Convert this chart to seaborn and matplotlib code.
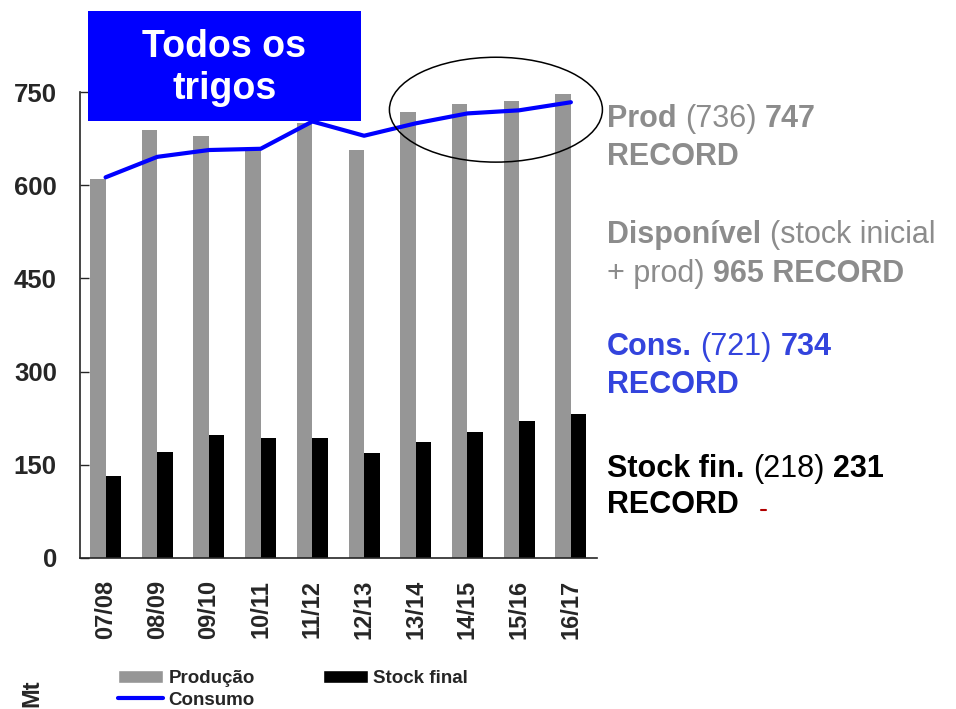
import pandas as pd
import matplotlib.pyplot as plt
import seaborn as sns
from matplotlib.patches import Ellipse, Rectangle, Patch
from matplotlib.lines import Line2D

seasons = ["07/08", "08/09", "09/10", "10/11", "11/12",
           "12/13", "13/14", "14/15", "15/16", "16/17"]
producao = [610, 690, 680, 658, 700, 657, 718, 731, 736, 747]
stock_final = [132, 170, 198, 193, 193, 169, 186, 203, 220, 231]
consumo = [613, 646, 657, 659, 703, 680, 700, 716, 721, 734]
y_ticks = [0, 150, 300, 450, 600, 750]

gray = "#969696"
txt_gray = "#8c8c8c"
txt_blue = "#3344dd"

sns.set_style("ticks")
plt.rcParams["font.family"] = ["Liberation Sans", "DejaVu Sans"]
plt.rcParams["font.weight"] = "bold"

df = pd.DataFrame({
    "season": seasons * 2,
    "serie": ["Produção"] * len(seasons) + ["Stock final"] * len(seasons),
    "valor": producao + stock_final,
})

fig = plt.figure(figsize=(9.56, 7.09), dpi=100)
ax = fig.add_axes([0.0834, 0.2134, 0.5408, 0.6564])

sns.barplot(data=df, x="season", y="valor", hue="serie",
            palette={"Produção": gray, "Stock final": "black"},
            width=0.6, linewidth=0, saturation=1, legend=False, ax=ax)
sns.pointplot(x=seasons, y=consumo, color="#0000ff", markers="",
              linewidth=3, errorbar=None, ax=ax)

ax.set_xlim(-0.5, len(seasons) - 0.5)
ax.set_ylim(0, 750)
ax.set_yticks(y_ticks)
ax.set_xlabel("")
ax.set_ylabel("")
sns.despine(ax=ax)
for s in ["left", "bottom"]:
    ax.spines[s].set_linewidth(1.2)
ax.tick_params(axis="y", direction="in", length=6.5, width=1, pad=16.5, labelsize=18.5)
ax.tick_params(axis="x", length=0, pad=16, labelsize=17, labelrotation=90)

# circle around the record years
ax.add_patch(Ellipse((7.55, 722), 4.12, 169, fill=False, ec="black",
                     lw=1.1, clip_on=False, zorder=4))

# title box
fig.add_artist(Rectangle((88 / 956, 1 - 121 / 709), 273 / 956, 110 / 709,
                         transform=fig.transFigure, fc="#0000ff", ec="none", zorder=5))
fig.text(224.5 / 956, 1 - 68 / 709, "Todos os\ntrigos", color="white", fontsize=27,
         ha="center", va="center", linespacing=1.2, zorder=6)

fig.text(32 / 956, 1 - 693 / 709, "Mt", rotation=90, ha="center", va="center", fontsize=17)

handles = [Patch(fc=gray), Line2D([], [], color="#0000ff", lw=3), Patch(fc="black")]
fig.legend(handles, ["Produção", "Consumo", "Stock final"], ncol=2, loc="upper left",
           bbox_to_anchor=(118 / 956, 1 - 670 / 709), frameon=False, borderpad=0,
           borderaxespad=0, handlelength=2.4, handleheight=0.7, handletextpad=0.3,
           columnspacing=3.6, labelspacing=0.25, prop={"weight": "bold", "size": 13.5})

# notes on the right, (text, bold) pieces per line
notes = [
    (127, txt_gray, [("Prod", True), ("(736)", False), ("747", True)]),
    (165, txt_gray, [("RECORD", True)]),
    (243, txt_gray, [("Disponível", True), ("(stock inicial", False)]),
    (282, txt_gray, [("+ prod)", False), ("965 RECORD", True)]),
    (355, txt_blue, [("Cons.", True), ("(721)", False), ("734", True)]),
    (393, txt_blue, [("RECORD", True)]),
    (477, "black", [("Stock fin.", True), ("(218)", False), ("231", True)]),
    (513, "black", [("RECORD", True)]),
]
fs = 22
for base, col, pieces in notes:
    prev = None
    for text, bold in pieces:
        w = "bold" if bold else "normal"
        if prev is None:
            prev = fig.text(607 / 956, 1 - base / 709, text, color=col, fontsize=fs,
                            fontweight=w, va="baseline", ha="left")
        else:
            prev = ax.annotate(text, xy=(1, 0), xycoords=prev, xytext=(fs * 0.278, 0),
                               textcoords="offset points", color=col, fontsize=fs,
                               fontweight=w, va="bottom", ha="left")

fig.add_artist(Line2D([761 / 956, 766 / 956], [1 - 510 / 709] * 2, color="#b00000",
                      lw=1.5, transform=fig.transFigure))

fig.savefig("out.png", dpi=100)
